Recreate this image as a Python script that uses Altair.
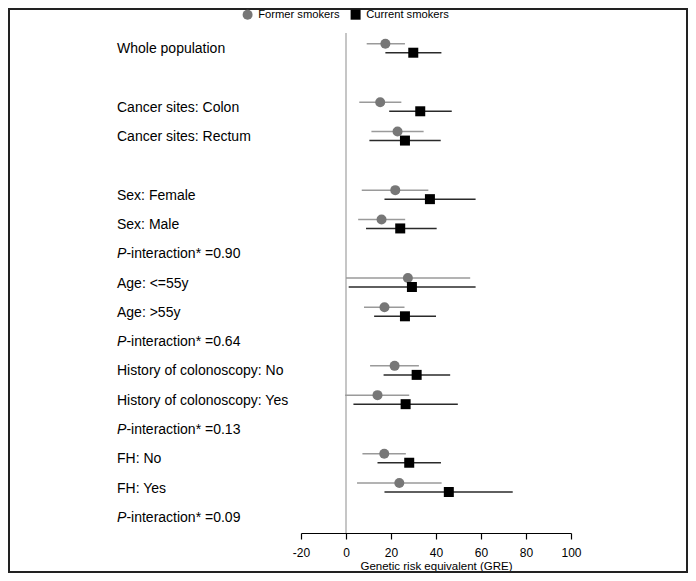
import altair as alt
import pandas as pd

# ---------------- data ----------------
row_labels = [
    "Whole population", "", "Cancer sites: Colon", "Cancer sites: Rectum", "",
    "Sex: Female", "Sex: Male", "P-interaction* =0.90",
    "Age: <=55y", "Age: >55y", "P-interaction* =0.64",
    "History of colonoscopy: No", "History of colonoscopy: Yes", "P-interaction* =0.13",
    "FH: No", "FH: Yes", "P-interaction* =0.09",
]

former_est = [17.5, None, 15.2, 22.9, None, 21.9, 15.8, None, 27.5, 17.1, None, 21.6, 14.0, None, 17.0, 23.7, None]
former_low = [9.2, None, 5.9, 11.3, None, 7.0, 5.4, None, 0.0, 8.0, None, 10.7, -0.4, None, 7.3, 4.9, None]
former_high = [26.2, None, 24.6, 34.5, None, 36.6, 26.3, None, 55.2, 26.0, None, 32.4, 28.1, None, 26.6, 42.5, None]

current_est = [29.9, None, 33.0, 26.2, None, 37.3, 24.1, None, 29.3, 26.2, None, 31.4, 26.5, None, 28.1, 45.7, None]
current_low = [17.5, None, 19.2, 10.4, None, 17.1, 8.9, None, 1.2, 12.5, None, 16.7, 3.3, None, 14.0, 17.1, None]
current_high = [42.4, None, 47.0, 42.1, None, 57.6, 40.3, None, 57.6, 40.0, None, 46.3, 49.7, None, 42.2, 74.1, None]

groups = ["Former smokers", "Current smokers"]
x_ticks = [-20, 0, 20, 40, 60, 80, 100]

# ---------------- tables ----------------
recs = []
for i, lab in enumerate(row_labels):
    for g, est, lo, hi, off in [
        (groups[0], former_est, former_low, former_high, -0.154),
        (groups[1], current_est, current_low, current_high, 0.154),
    ]:
        if est[i] is not None:
            recs.append({"label": lab, "group": g,
                         "est": est[i], "low": lo[i], "high": hi[i], "ypos": i + off})
df = pd.DataFrame(recs)

lab_recs = []
for i, lab in enumerate(row_labels):
    if lab == "":
        continue
    if lab.startswith("P-"):
        lab_recs.append({"row": i, "plain": "", "ital": "P", "rest": lab[1:]})
    else:
        lab_recs.append({"row": i, "plain": lab, "ital": "", "rest": ""})
labels_df = pd.DataFrame(lab_recs)

FONT = "Liberation Sans, Arial, Helvetica, sans-serif"
x_scale = alt.Scale(domain=[-20, 100], nice=False, zero=False)
y_scale = alt.Scale(domain=[-0.519, 16.553], reverse=True, nice=False, zero=False)
x_axis = alt.Axis(values=x_ticks, title="Genetic risk equivalent (GRE)", grid=False,
                  labelExpr="'' + datum.value", labelFlush=False)

base = alt.Chart(df)

zero_rule = alt.Chart(pd.DataFrame({"z": [0]})).mark_rule(
    color="#b3b3b3", strokeWidth=1.5
).encode(x=alt.X("z:Q", scale=x_scale, axis=x_axis))

ci_former = base.transform_filter(alt.datum.group == groups[0]).mark_rule(
    strokeWidth=1.5, color="#9a9a9a"
).encode(
    x=alt.X("low:Q", scale=x_scale, axis=x_axis),
    x2="high:Q",
    y=alt.Y("ypos:Q", scale=y_scale, axis=None),
)
ci_current = base.transform_filter(alt.datum.group == groups[1]).mark_rule(
    strokeWidth=1.5, color="#2a2a2a"
).encode(
    x=alt.X("low:Q", scale=x_scale, axis=x_axis),
    x2="high:Q",
    y=alt.Y("ypos:Q", scale=y_scale, axis=None),
)

leg = alt.Legend(
    title=None, orient="none", legendX=-59, legendY=-24, direction="horizontal",
    labelFont=FONT, labelFontSize=11.2, labelColor="#000", symbolSize=100,
    labelOffset=5, columnPadding=10, padding=0, symbolStrokeWidth=0,
)
pts = base.mark_point(filled=True, opacity=1, size=100).encode(
    x=alt.X("est:Q", scale=x_scale, axis=x_axis),
    y=alt.Y("ypos:Q", scale=y_scale, axis=None),
    color=alt.Color("group:N", scale=alt.Scale(domain=groups, range=["#777777", "#000000"]), legend=leg),
    shape=alt.Shape("group:N", scale=alt.Scale(domain=groups, range=["circle", "square"]), legend=leg),
)

lab_base = alt.Chart(labels_df)
txt_plain = lab_base.mark_text(align="left", baseline="middle", font=FONT, fontSize=14, color="#000", dy=1).encode(
    x=alt.value(-184), y=alt.Y("row:Q", scale=y_scale, axis=None), text="plain:N")
txt_ital = lab_base.mark_text(align="left", baseline="middle", font=FONT, fontSize=14, fontStyle="italic", color="#000", dy=1).encode(
    x=alt.value(-184), y=alt.Y("row:Q", scale=y_scale, axis=None), text="ital:N")
txt_rest = lab_base.mark_text(align="left", baseline="middle", font=FONT, fontSize=14, color="#000", dy=1).encode(
    x=alt.value(-174.6), y=alt.Y("row:Q", scale=y_scale, axis=None), text="rest:N")

frame = alt.Chart(pd.DataFrame({"f": [0]})).mark_rect(
    fill="transparent", stroke="#222222", strokeWidth=2
).encode(x=alt.value(-292), x2=alt.value(386), y=alt.value(-24), y2=alt.value(539))

chart = alt.layer(zero_rule, ci_former, ci_current, pts, txt_plain, txt_ital, txt_rest, frame).properties(
    width=270, height=500,
    autosize=alt.AutoSizeParams(type="none"),
    padding={"left": 293, "right": 117, "top": 25, "bottom": 40},
).configure_view(stroke=None).configure_axis(
    domainColor="#000", domainWidth=1.2, tickColor="#000", tickWidth=1.2, tickSize=6,
    labelFont=FONT, labelFontSize=12, labelColor="#000", labelPadding=8,
    titleFont=FONT, titleFontSize=11.5, titleFontWeight="normal", titleColor="#000", titlePadding=2,
)

chart.save("out.html", embed_options={"renderer": "svg", "actions": False})
